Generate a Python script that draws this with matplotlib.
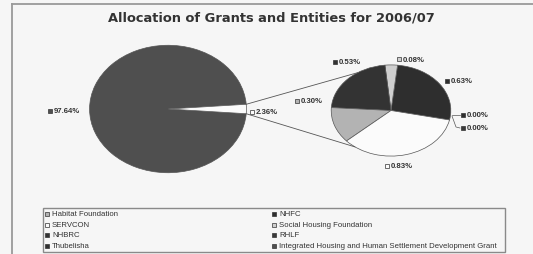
import matplotlib
matplotlib.use("Agg")
import numpy as np
import matplotlib.pyplot as plt
from matplotlib.patches import ConnectionPatch, Rectangle

# ==============================
# DATA
# ==============================
TITLE = "Allocation of Grants and Entities for 2006/07"

# first pie: big grant vs. "other" (split out into the second pie)
main_values = [97.64, 2.36]
main_labels = ["97.64%", "2.36%"]

# second pie (counter-clockwise from the right)
sub_names = ["Thubelisha", "RHLF", "NHFC", "Social Housing Foundation",
             "NHBRC", "Habitat Foundation", "SERVCON"]
sub_values = [0.00, 0.00, 0.63, 0.08, 0.53, 0.30, 0.83]
sub_labels = ["0.00%", "0.00%", "0.63%", "0.08%", "0.53%", "0.30%", "0.83%"]

legend_names = ["Habitat Foundation", "SERVCON", "NHBRC", "Thubelisha",
                "NHFC", "Social Housing Foundation", "RHLF",
                "Integrated Housing and Human Settlement Development Grant"]

# ==============================
# STYLE
# ==============================
plt.rcParams["font.family"] = ["Liberation Sans", "DejaVu Sans"]
BG = "#f6f6f6"
BIG_C = "#4f4f4f"
colors_sub = {"Thubelisha": "#2f2f2f", "RHLF": "#3a3a3a", "NHFC": "#2e2e2e",
              "Social Housing Foundation": "#cfcfcf", "NHBRC": "#333333",
              "Habitat Foundation": "#b3b3b3", "SERVCON": "#fbfbfb",
              "Integrated Housing and Human Settlement Development Grant": BIG_C}

W, H = 533, 255
fig = plt.figure(figsize=(W / 100, H / 100), dpi=100, facecolor=BG)


def px_axes(x0, y0, x1, y1):
    return fig.add_axes([x0 / W, (H - y1) / H, (x1 - x0) / W, (y1 - y0) / H])


# overlay in pixel coords for frame, title, labels
ax0 = fig.add_axes([0, 0, 1, 1])
ax0.set_xlim(0, W)
ax0.set_ylim(H, 0)
ax0.axis("off")
ax0.plot([12, W], [5, 5], color="#9a9a9a", lw=1.3)
ax0.plot([12, 12], [5, H], color="#9a9a9a", lw=1.3)
ax0.text(271, 18, TITLE, ha="center", va="center", fontsize=9.4,
         fontweight="bold", color="#333333", family="DejaVu Sans")

# ==============================
# PIE 1
# ==============================
ax1 = px_axes(88, 45, 248, 175)
w1, _ = ax1.pie(main_values, colors=[BIG_C, "#fbfbfb"],
                startangle=main_values[1] / 100 * 180, counterclock=True,
                wedgeprops=dict(edgecolor="#555555", linewidth=0.5))
ax1.set_aspect("auto")
ax1.set_xlim(-1.02, 1.02)
ax1.set_ylim(-1.02, 1.02)

# ==============================
# PIE 2
# ==============================
ax2 = px_axes(330, 65, 452, 158)
w2, _ = ax2.pie(sub_values, colors=[colors_sub[n] for n in sub_names],
                startangle=-12, counterclock=True,
                wedgeprops=dict(edgecolor="#555555", linewidth=0.5))
ax2.set_aspect("auto")
ax2.set_xlim(-1.02, 1.02)
ax2.set_ylim(-1.02, 1.02)

# connector lines between the pies
small = w1[1]
for a1, a2 in [(small.theta2, 124), (small.theta1, 233)]:
    p1 = (np.cos(np.radians(a1)), np.sin(np.radians(a1)))
    p2 = (np.cos(np.radians(a2)), np.sin(np.radians(a2)))
    con = ConnectionPatch(xyA=p1, coordsA=ax1.transData, xyB=p2,
                          coordsB=ax2.transData, color="#555555", lw=0.6)
    fig.add_artist(con)

# ==============================
# DATA LABELS (pixel anchor of the key square)
# ==============================
main_pos = [(50, 112), (252, 113)]
sub_pos = [(463, 116), (463, 129), (447, 82), (399, 60),
           (335, 63), (297, 102), (387, 167)]


def put_label(x, y, text, fc):
    ax0.plot(x, y, marker="s", ms=2.8, mfc=fc, mec="#333333", mew=0.5)
    ax0.text(x + 4, y, text, ha="left", va="center", fontsize=5.6,
             fontweight="bold", color="#333333")


for (x, y), t, c in zip(main_pos, main_labels, [BIG_C, "#fbfbfb"]):
    put_label(x, y, t, c)
for (x, y), t, n in zip(sub_pos, sub_labels, sub_names):
    put_label(x, y, t, colors_sub[n])

# leader lines for the zero slices
ax0.plot([452, 460], [116, 116], color="#555555", lw=0.5)
ax0.plot([452, 456, 460], [117, 128, 129], color="#555555", lw=0.5)

# ==============================
# LEGEND (drawn by hand so the long name is clipped like the original)
# ==============================
box = Rectangle((43, 209), 462, 44, facecolor=BG, edgecolor="#8a8a8a", lw=1.0)
ax0.add_patch(box)
rows = [215, 225.5, 236, 246.5]
cols = [47, 274]
for i, name in enumerate(legend_names):
    x = cols[i // 4]
    y = rows[i % 4]
    ax0.plot(x, y, marker="s", ms=3.2, mfc=colors_sub[name], mec="#333333",
             mew=0.5)
    t = ax0.text(x + 5, y, name, ha="left", va="center", fontsize=5.6,
                 color="#333333")
    t.set_clip_path(box)

fig.savefig("out.png", dpi=100, facecolor=BG)
